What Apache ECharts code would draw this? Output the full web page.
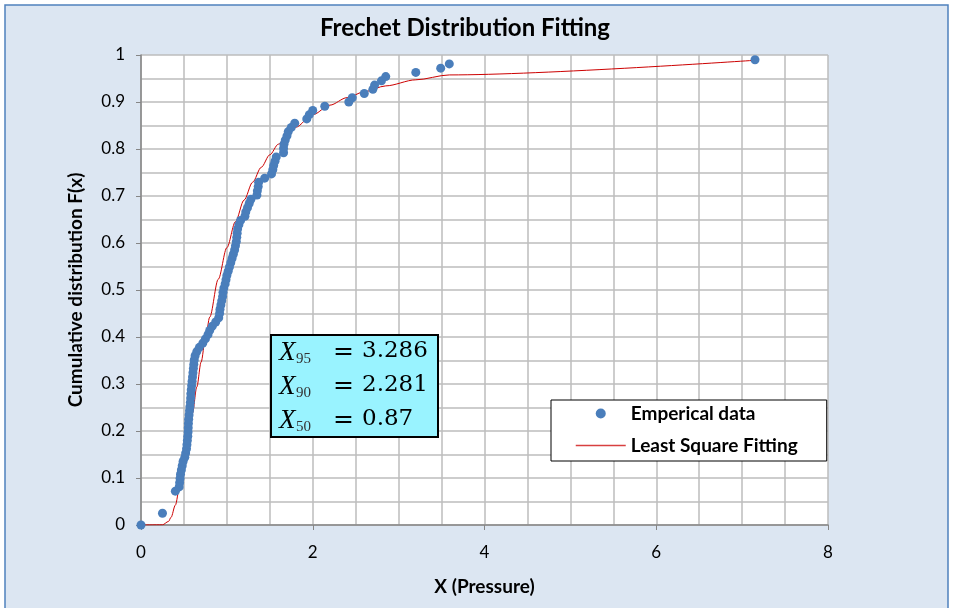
<!DOCTYPE html>
<html>
<head>
<meta charset="utf-8">
<script src="https://cdn.jsdelivr.net/npm/echarts@6/dist/echarts.min.js"></script>
<style>
  html, body { margin: 0; padding: 0; background: #fff; }
  #chart { width: 958px; height: 608px; }
</style>
</head>
<body>
<div id="chart"></div>
<script>
const empX = [0, 0.25, 0.40, 0.445, 0.45, 0.455, 0.46, 0.47, 0.48, 0.49, 0.51, 0.52, 0.53, 0.535, 0.54, 0.545,
  0.548, 0.55, 0.552, 0.555, 0.56, 0.565, 0.57, 0.575, 0.578, 0.58, 0.585, 0.59, 0.595, 0.60, 0.605, 0.61,
  0.615, 0.62, 0.63, 0.65, 0.68, 0.72, 0.75, 0.78, 0.80, 0.83, 0.87, 0.905, 0.915, 0.92, 0.93, 0.94, 0.95,
  0.955, 0.965, 0.98, 0.99, 1.00, 1.015, 1.03, 1.045, 1.06, 1.075, 1.09, 1.10, 1.11, 1.115, 1.12, 1.125,
  1.14, 1.16, 1.21, 1.22, 1.24, 1.26, 1.28, 1.35, 1.355, 1.365, 1.37, 1.44, 1.52, 1.535, 1.545, 1.56, 1.575,
  1.66, 1.66, 1.665, 1.68, 1.70, 1.715, 1.75, 1.79, 1.93, 1.96, 2.0, 2.14, 2.42, 2.46, 2.60, 2.70, 2.72,
  2.80, 2.85, 3.20, 3.49, 3.59, 7.15];
const empY = [0, 0.025, 0.072, 0.081, 0.090, 0.099, 0.108, 0.117, 0.126, 0.135, 0.144, 0.153, 0.162, 0.171, 0.180, 0.189,
  0.198, 0.207, 0.216, 0.225, 0.234, 0.243, 0.252, 0.261, 0.270, 0.279, 0.288, 0.297, 0.306, 0.315, 0.324, 0.333,
  0.342, 0.351, 0.360, 0.369, 0.378, 0.387, 0.396, 0.405, 0.414, 0.423, 0.432, 0.441, 0.450, 0.459, 0.468, 0.477, 0.486,
  0.495, 0.504, 0.513, 0.522, 0.531, 0.540, 0.549, 0.558, 0.567, 0.576, 0.585, 0.594, 0.603, 0.612, 0.621, 0.630,
  0.639, 0.648, 0.657, 0.666, 0.675, 0.684, 0.693, 0.702, 0.711, 0.720, 0.729, 0.738, 0.747, 0.756, 0.765, 0.774, 0.783,
  0.792, 0.801, 0.810, 0.819, 0.828, 0.837, 0.846, 0.855, 0.864, 0.873, 0.882, 0.891, 0.900, 0.909, 0.918, 0.927, 0.936,
  0.945, 0.954, 0.963, 0.972, 0.981, 0.990];

// least square fitting curve
const fitX = [0, 0.25, 0.32, 0.35, 0.40, 0.45, 0.50, 0.55, 0.60, 0.65, 0.70, 0.75, 0.80, 0.90, 1.0, 1.1, 1.2, 1.3,
  1.4, 1.5, 1.6, 1.7, 1.8, 2.0, 2.2, 2.4, 2.6, 2.85, 3.2, 3.59, 7.15];
const fitY = [0, 0.0004, 0.0075, 0.0164, 0.0422, 0.0809, 0.1293, 0.183, 0.2388, 0.2938, 0.3466, 0.3962, 0.4422, 0.523,
  0.5901, 0.6455, 0.6913, 0.7293, 0.761, 0.7877, 0.8103, 0.8296, 0.8462, 0.8729, 0.8933, 0.9093, 0.9218, 0.9343,
  0.9472, 0.9576, 0.9888];

const quantileNames = ['95', '90', '50'];
const quantileValues = ['3.286', '2.281', '0.87'];

const chart = echarts.init(document.getElementById('chart'));

const gridStyle = { color: '#bdbdbd', width: 1.5 };
const axisFont = { fontFamily: 'Lato', fontSize: 17, color: '#000' };
const nameFont = { fontFamily: 'Lato', fontWeight: 'bold', fontSize: 19, color: '#000' };

let boxTexts = [];
for (let i = 0; i < quantileNames.length; i++) {
  const y = 339 + i * 34;
  boxTexts.push({ type: 'text', left: 279, top: y, z: 101,
    style: { text: 'X', font: 'italic 27px "Liberation Serif"', fill: '#000' } });
  boxTexts.push({ type: 'text', left: 296, top: y + 13, z: 101,
    style: { text: quantileNames[i], font: '15px "Liberation Serif"', fill: '#333' } });
  boxTexts.push({ type: 'text', left: 333, top: y + 1, z: 101,
    style: { text: '=', font: '25px "DejaVu Serif"', fill: '#000' } });
  boxTexts.push({ type: 'text', left: 362, top: y + 1, z: 101,
    style: { text: quantileValues[i], font: '23px "DejaVu Serif"', fill: '#000' } });
}

const option = {
  backgroundColor: '#fff',
  animation: false,
  title: {
    text: 'Frechet Distribution Fitting',
    left: 460, top: 11, textAlign: 'center',
    textStyle: { fontFamily: 'Lato', fontWeight: 'bold', fontSize: 24, color: '#000' }
  },
  grid: {
    left: 141, right: 130, top: 55, bottom: 83,
    show: true, backgroundColor: '#fff', borderWidth: 0
  },
  legend: {
    orient: 'vertical',
    left: 551, top: 400,
    padding: [4, 29, 6, 24],
    backgroundColor: '#fff',
    borderColor: '#000', borderWidth: 1,
    itemWidth: 50, itemHeight: 10, itemGap: 13,
    textStyle: nameFont,
    data: [
      { name: 'Emperical data', icon: 'circle' },
      { name: 'Least Square Fitting', itemStyle: { opacity: 0 }, lineStyle: { color: '#d84040', width: 1.5 } }
    ]
  },
  xAxis: {
    type: 'value', min: 0, max: 8, interval: 2,
    name: 'X (Pressure)', nameLocation: 'middle', nameGap: 52,
    nameTextStyle: nameFont,
    axisLine: { show: true, lineStyle: { color: '#868686', width: 1.5 } },
    axisTick: { show: true, length: 5, lineStyle: { color: '#868686' } },
    axisLabel: Object.assign({ margin: 19 }, axisFont),
    splitLine: { show: true, lineStyle: gridStyle },
    minorTick: { show: false, splitNumber: 4 },
    minorSplitLine: { show: true, lineStyle: gridStyle }
  },
  yAxis: {
    type: 'value', min: 0, max: 1, interval: 0.1,
    name: 'Cumulative distribution F(x)', nameLocation: 'middle', nameGap: 56,
    nameTextStyle: nameFont,
    axisLine: { show: true, lineStyle: { color: '#868686', width: 1.5 } },
    axisTick: { show: true, length: 5, lineStyle: { color: '#868686' } },
    axisLabel: Object.assign({ margin: 16, formatter: v => String(+v.toFixed(1)) }, axisFont),
    splitLine: { show: true, lineStyle: gridStyle },
    minorTick: { show: false, splitNumber: 2 },
    minorSplitLine: { show: true, lineStyle: gridStyle }
  },
  series: [
    {
      name: 'Emperical data',
      type: 'scatter',
      symbol: 'circle',
      symbolSize: 9,
      itemStyle: { color: '#4a7ebb', opacity: 1 },
      z: 3,
      data: empX.map((x, i) => [x, empY[i]])
    },
    {
      name: 'Least Square Fitting',
      type: 'line',
      symbol: 'none',
      smooth: 0.3,
      smoothMonotone: 'x',
      lineStyle: { color: '#cc0000', width: 1 },
      itemStyle: { color: '#cc0000' },
      z: 2,
      data: fitX.map((x, i) => [x, fitY[i]])
    }
  ],
  graphic: [
    { type: 'rect', z: -10, shape: { x: 5, y: 5, width: 943, height: 620 },
      style: { fill: '#dce6f2', stroke: '#4f81bd', lineWidth: 1.5 } },
    { type: 'rect', z: 100, shape: { x: 271, y: 335, width: 167, height: 102 },
      style: { fill: '#99f3ff', stroke: '#000', lineWidth: 2 } }
  ].concat(boxTexts)
};

chart.setOption(option);
</script>
</body>
</html>
